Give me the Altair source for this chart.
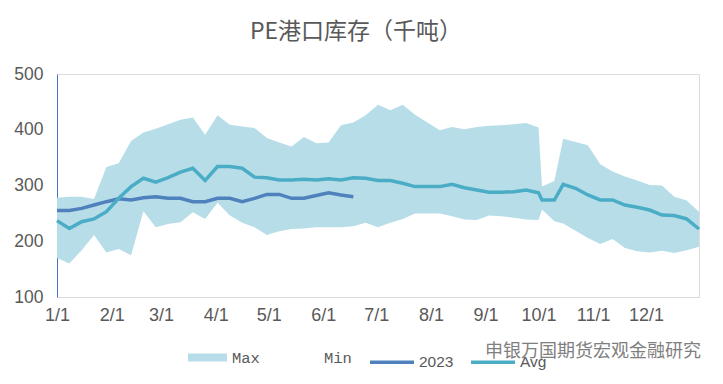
import altair as alt
import pandas as pd

# week positions (day of year)
days = list(range(0, 274, 7)) + [275, 282] + list(range(287, 365, 7))

max_vals = [278, 280, 280, 276, 333, 340, 380, 395, 402, 410, 418, 422, 391, 426, 409, 406, 403, 385, 377, 370,
            387, 376, 377, 408, 413,
            426, 445, 435, 445, 427, 413, 399, 405, 401, 405, 407, 408, 410, 412, 404,
            298, 308,
            384, 378, 372, 338, 325, 316, 309, 301, 300, 280, 273, 253]
min_vals = [170, 160, 184, 211, 180, 186, 175, 254, 225, 231, 234, 252, 240, 269, 246, 233, 225, 211, 218, 222,
            223, 225, 225, 225, 227,
            233, 225, 233, 240, 250, 250, 250, 245, 239, 238, 246, 245, 242, 239, 238,
            257, 236,
            232, 219, 206, 195, 204, 188, 182, 180, 183, 179, 184, 190]
avg_vals = [237, 223, 235, 240, 253, 277, 298, 313, 306, 314, 324, 331, 309, 334, 334, 331, 315, 314, 310, 310,
            311, 310, 312, 310, 314,
            313, 309, 309, 304, 298, 298, 298, 302, 296, 292, 288, 288, 289, 292, 287,
            274, 274,
            302, 295, 283, 274, 274, 265, 261, 256, 247, 246, 240, 222]
vals_2023 = [255, 255, 259, 265, 271, 276, 274, 278, 280, 277, 277, 271, 271, 277, 277, 271, 277, 284, 284, 277,
             277, 282, 287, 283, 280]

month_days = [0, 31, 59, 90, 120, 151, 181, 212, 243, 273, 304, 334]
month_labels = ["1/1", "2/1", "3/1", "4/1", "5/1", "6/1", "7/1", "8/1", "9/1", "10/1", "11/1", "12/1"]
y_ticks = [100, 200, 300, 400, 500]

band_names = ["Max", "Min"]
band_colors = ["#B7DEE8", "#FFFFFF"]
line_names = ["2023", "Avg"]
line_colors = ["#4F81BD", "#4BACC6"]

title_text = "PE港口库存（千吨）"
watermark = "申银万国期货宏观金融研究"

band = pd.DataFrame({"day": days, "max": max_vals, "min": min_vals, "series": "Max"})
lines = pd.concat([
    pd.DataFrame({"day": days[:len(vals_2023)], "v": vals_2023, "series": "2023"}),
    pd.DataFrame({"day": days, "v": avg_vals, "series": "Avg"}),
])

label_expr = "[" + ",".join(f"'{l}'" for l in month_labels) + "][indexof([" + \
    ",".join(str(d) for d in month_days) + "], datum.value)]"

x_enc = alt.X("day:Q", scale=alt.Scale(domain=[0, 364], nice=False, zero=False),
              axis=alt.Axis(values=month_days, labelExpr=label_expr, title=None, grid=False, ticks=False,
                            domainColor="#D9D9D9", domainWidth=1, labelColor="#595959", labelFontSize=18,
                            labelFont="Liberation Sans Narrow, Liberation Sans", labelPadding=9,
                            labelFlush=False))
y_scale = alt.Scale(domain=[100, 500], nice=False, zero=False)
y_axis = alt.Axis(values=y_ticks, title=None, grid=False, ticks=False, domainColor="#4472C4", domainWidth=1,
                  labelColor="#595959", labelFontSize=17.5, labelFont="Liberation Sans", labelPadding=14)

band_legend = alt.Legend(
    title=None, orient="none", legendX=131, legendY=264, direction="horizontal",
    symbolType="M-1,-0.2H1V0.2H-1Z", symbolSize=1521, symbolStrokeWidth=0,
    labelFontSize=15.5, labelColor="#595959", labelFont="Liberation Mono", columnPadding=20, labelOffset=5,
)
line_legend = alt.Legend(
    title=None, orient="none", legendX=311, legendY=264, direction="horizontal",
    symbolType="stroke", symbolSize=1936, symbolStrokeWidth=3.5,
    labelFontSize=15.5, labelColor="#595959", labelFont="Liberation Sans", columnPadding=10, labelOffset=3,
)

area = alt.Chart(band).mark_area(opacity=1).encode(
    x=x_enc,
    y=alt.Y("min:Q", scale=y_scale, axis=y_axis),
    y2="max:Q",
    fill=alt.Fill("series:N", scale=alt.Scale(domain=band_names, range=band_colors), legend=band_legend),
)

lines_chart = alt.Chart(lines).mark_line(strokeWidth=3.5).encode(
    x=x_enc, y=alt.Y("v:Q", scale=y_scale),
    stroke=alt.Stroke("series:N", scale=alt.Scale(domain=line_names, range=line_colors), legend=line_legend),
)

wm_df = pd.DataFrame({"t": [watermark]})
wm_halo = alt.Chart(wm_df).mark_text(align="left", baseline="middle", fontSize=18, font="Noto Sans CJK SC",
                                     stroke="white", strokeWidth=3, fill="white").encode(
    text="t:N", x=alt.value(428), y=alt.value(278))
wm_text = alt.Chart(wm_df).mark_text(align="left", baseline="middle", fontSize=18, font="Noto Sans CJK SC",
                                     fill="#7F7F7F").encode(
    text="t:N", x=alt.value(428), y=alt.value(278))

chart = alt.layer(area, lines_chart, wm_halo, wm_text).resolve_scale(fill="independent", stroke="independent").properties(
    width=642, height=223,
    title=alt.TitleParams(title_text, fontSize=23, color="#595959", font="Noto Sans CJK SC", fontWeight="normal",
                          anchor="middle", dx=-22, offset=21),
    autosize=alt.AutoSizeParams(type="none"),
    padding={"left": 49, "top": 66, "right": 16, "bottom": 78},
).configure_view(stroke=None).configure(background="white")

chart.save("out.html", embed_options={"renderer": "svg", "actions": False})
